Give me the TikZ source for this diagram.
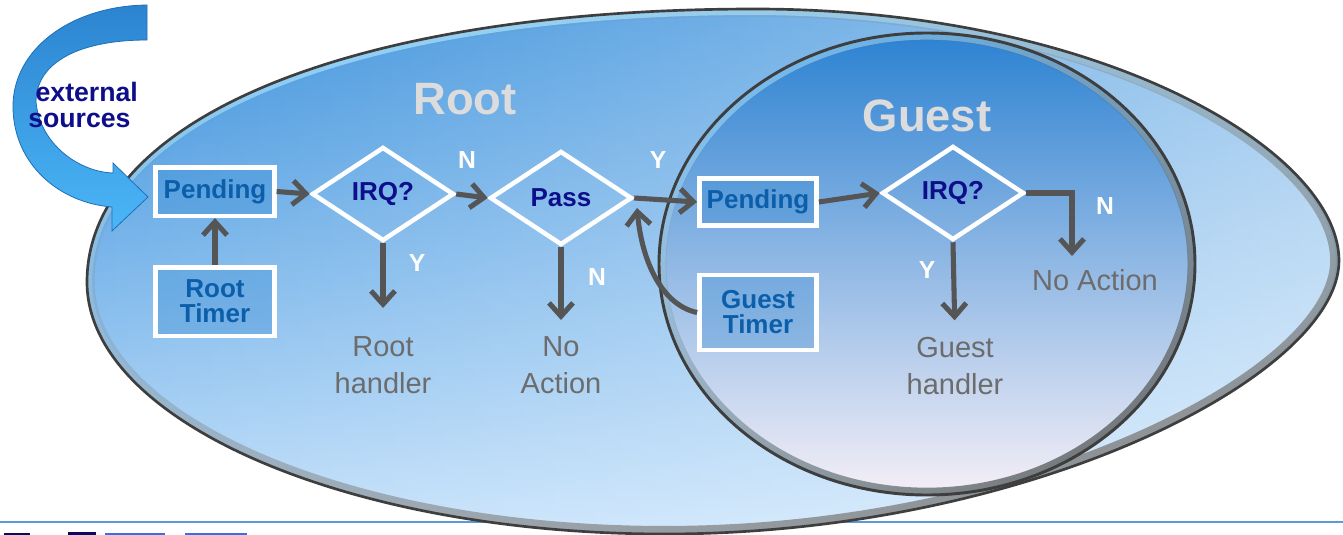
\documentclass[tikz,border=0pt]{standalone}
\usepackage{fontspec}
\setmainfont{Liberation Sans}
\usetikzlibrary{arrows.meta,shapes.geometric,fadings}

\definecolor{ovtop}{HTML}{3990DC}
\definecolor{ovmid}{HTML}{78BEF5}
\definecolor{ovbot}{HTML}{C4E1FB}
\definecolor{intop}{HTML}{2C82D2}
\definecolor{inmid}{HTML}{88C4F3}
\definecolor{inbot}{HTML}{F5EFF7}
\definecolor{rimgray}{HTML}{3E3E3E}
\definecolor{boxtext}{HTML}{0B5EAA}
\definecolor{navytext}{HTML}{0E0E8A}
\definecolor{arrowgray}{HTML}{555555}
\definecolor{labelgray}{HTML}{6C6C6C}
\definecolor{titlegray}{HTML}{DCDCDC}
\definecolor{rulecol}{HTML}{5B9BD5}
\definecolor{extdark}{HTML}{2C84D0}
\definecolor{extlight}{HTML}{4BB6F7}
\definecolor{extedge}{HTML}{1F6FB8}
\definecolor{sheen}{HTML}{A8E2FF}

\tikzfading[name=fadetoright, left color=transparent!100, middle color=transparent!95, right color=transparent!25]
\tikzfading[name=rimfade, top color=transparent!100, middle color=transparent!75, bottom color=transparent!0, shading angle=40]
\tikzfading[name=fadetotop, top color=transparent!0, middle color=transparent!100, bottom color=transparent!100]

\newcommand\boxfont{\bfseries\fontsize{19.5}{18.75}\selectfont}
\newcommand\labelfont{\fontsize{21.75}{27.75}\selectfont}
\newcommand\ynfont{\bfseries\fontsize{18.5}{20}\selectfont}

% outline of the large "Root" region and of the "Guest" region
\newcommand\outerpath{(87,282) .. controls (87,118) and (354,9) .. (755,9)
  .. controls (1100,9) and (1338,150) .. (1339,260)
  .. controls (1340,375) and (1030,534) .. (665,534)
  .. controls (347,534) and (87,421) .. (87,282) -- cycle}
\newcommand\innerpath{(927,264) ellipse [x radius=201pt, y radius=173.25pt]}

\begin{document}
\begin{tikzpicture}[x=0.75pt, y=-0.75pt,
  boxnode/.style={draw=white, line width=3.4pt, fill=extdark, fill opacity=0.3,
    text opacity=1, text=boxtext, font=\boxfont, align=center, inner sep=0pt,
    minimum width=89pt},
  decision/.style={diamond, draw=white, line width=3.4pt, text=navytext,
    font=\boxfont, inner sep=0pt, minimum width=106.5pt, minimum height=70.5pt},
  outcome/.style={text=labelgray, font=\labelfont, align=center, inner sep=0pt,
    anchor=north},
  yn/.style={text=white, font=\ynfont, inner sep=0pt},
  title/.style={text=titlegray, font=\bfseries\fontsize{34}{40}\selectfont, inner sep=0pt},
  arr/.style={draw=arrowgray, line width=3.8pt,
    -{Straight Barb[length=10pt, width=18pt]}}
]
\useasboundingbox (0,0) rectangle (1343,535);
\fill[white] (0,0) rectangle (1343,535);

% footer rule and the clipped marks below it
\draw[rulecol, line width=1.5pt] (0,522) -- (1343,522);
\fill[rulecol!70!blue] (105,532.5) rectangle (165,535);
\fill[rulecol!70!blue] (185,532.5) rectangle (247,535);
\fill[navytext!70!black] (4,533) rectangle (30,535);
\fill[navytext!70!black] (68,532) rectangle (96,535);

% Root region
\shade[top color=ovtop, middle color=ovmid, bottom color=ovbot] \outerpath;
\fill[white, path fading=fadetoright, fill opacity=0.7] \outerpath;
\begin{scope}
  \clip \outerpath;
  \draw[sheen, path fading=fadetotop, opacity=0.8, line width=9pt] \outerpath;
  \draw[gray, path fading=rimfade, opacity=0.85, line width=12pt] \outerpath;
\end{scope}
\draw[rimgray, line width=2pt] \outerpath;

% Guest region
\shade[top color=intop, middle color=inmid, bottom color=inbot] \innerpath;
\begin{scope}
  \clip \innerpath;
  \draw[sheen, opacity=0.55, line width=10pt] \innerpath;
  \draw[gray!80!black, path fading=rimfade, opacity=0.85, line width=11pt] \innerpath;
\end{scope}
\draw[rimgray, line width=2.2pt] \innerpath;

% curved arrow bringing in the external sources
\shade[top color=extdark, bottom color=extlight, draw=extedge, line width=0.6pt]
  (147,5) .. controls (70,6) and (12,50) .. (13,108)
  .. controls (14,165) and (60,203) .. (112,207)
  -- (112,231) -- (148,197) -- (113,163) -- (113,173)
  .. controls (80,172) and (40,145) .. (36,102)
  .. controls (36,62) and (80,40) .. (147,40) -- cycle;
\node[text=navytext, font=\bfseries\fontsize{20}{19.5}\selectfont, align=left,
  inner sep=0pt, anchor=west] (ext) at (28,105) {\hspace{5.5pt}external\\sources};

% titles
\node[title] (roottitle) at (465,99) {Root};
\node[title] (guesttitle) at (927,116) {Guest};

% Root flow
\node[boxnode, minimum height=36.4pt] (rpend) at (215,191.5) {Pending};
\node[boxnode, minimum height=51.4pt] (rtimer) at (215,301.5) {Root\\Timer};
\node[decision] (rirq) at (383,194) {IRQ?};
\node[decision] (pass) at (561,198) {Pass};
\node[outcome] (rhandler) at (383,336) {Root\\handler};
\node[outcome] (pnoact) at (561,336) {No\\Action};

% Guest flow
\node[boxnode, minimum width=88pt, minimum height=35.6pt] (gpend) at (758,202) {Pending};
\node[boxnode, minimum width=88pt, minimum height=56pt] (gtimer) at (758,312.5) {Guest\\Timer};
\node[decision] (girq) at (953,193) {IRQ?};
\node[outcome] (ghandler) at (955,337) {Guest\\handler};
\node[outcome] (gnoact) at (1095,269) {No Action};

% branch labels
\node[yn] (n1) at (467,160) {N};
\node[yn] (y1) at (417,263) {Y};
\node[yn] (y2) at (658,160) {Y};
\node[yn] (n2) at (597,277) {N};
\node[yn] (n3) at (1105,206) {N};
\node[yn] (y3) at (927,270) {Y};

% connectors
\coordinate (passin) at (637,208);
\coordinate (gnend) at (1072,256);
\draw[arr] (rpend.east) -- (rirq.west);
\draw[arr] (rtimer.north) -- (rpend.south);
\draw[arr] (rirq.east) -- (pass.west);
\draw[arr, shorten >=21pt] (rirq.south) -- (rhandler.north);
\draw[arr, shorten >=12pt] (pass.south) -- (pnoact.north);
\draw[arr] (pass.east) -- (gpend.west);
\draw[arr] (gtimer.west) .. controls (662,305) and (642,262) .. (passin);
\draw[arr] (gpend.east) -- (girq.west);
\draw[arr] (girq.east) -| (gnend);
\draw[arr, shorten >=12.5pt] (girq.south) -- (ghandler.north);
\end{tikzpicture}
\end{document}
